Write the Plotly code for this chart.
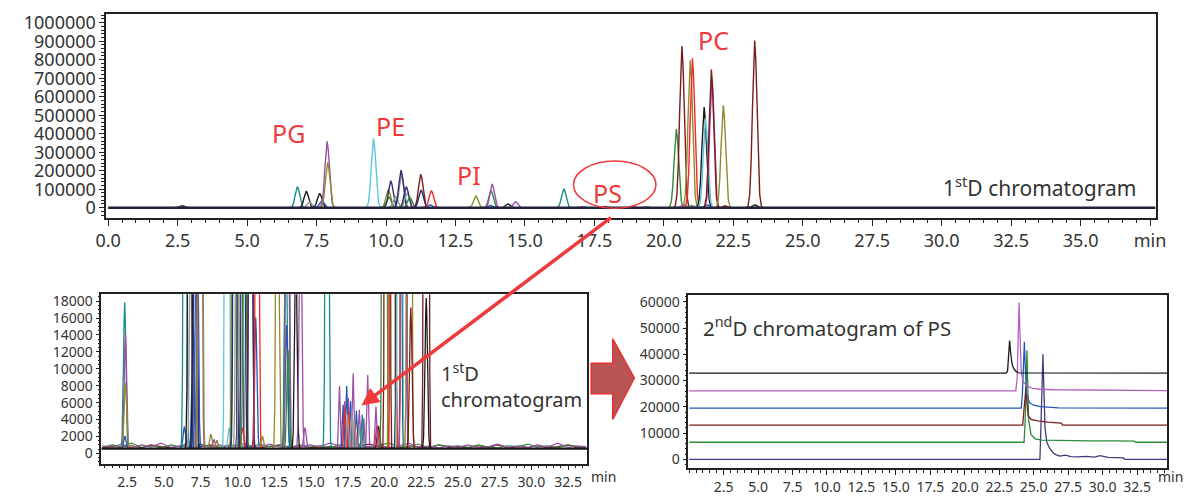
import plotly.graph_objects as go

W, H = 1200, 496


def px(x):
    return x / W


def py(y):
    return 1 - y / H


# ---------------- colours ----------------
COL = dict(teal='#1b8c87', black='#1a1a1a', gray='#9a9a9a', blue='#2356b5',
           purple='#9b4fa8', olive='#8f8a2c', cyan='#5ec6d6', green='#2f8a3c',
           navy='#2e2e6e', brown='#7a1c1c', red='#f02828', magenta='#b55fbf',
           slate='#3d3d7d')

# normalised peak profile (offset in min, fraction of apex)
PROF_OFF = [-0.30, -0.24, -0.18, -0.13, -0.08, -0.04, 0.0, 0.04, 0.08, 0.13, 0.18, 0.24, 0.30]
PROF_FRAC = [0.0, 0.01, 0.08, 0.27, 0.60, 0.88, 1.0, 0.88, 0.60, 0.27, 0.08, 0.01, 0.0]
# narrower, jagged profile for the PS hump
PS_OFF = [-0.14, -0.08, -0.04, 0.0, 0.04, 0.08, 0.14]
PS_FRAC = [0.0, 0.35, 0.75, 1.0, 0.7, 0.3, 0.0]

# ---------------- top panel: 1stD chromatogram ----------------
top_times = [2.65, 2.70, 6.81, 7.13, 7.24, 7.61, 7.69, 7.88, 7.90, 9.55,
             10.08, 10.10, 10.17, 10.34, 10.56, 10.54, 10.76, 10.73, 10.85,
             11.25, 11.26, 11.58, 11.63, 13.23, 13.75, 13.78, 13.82, 14.38, 14.66,
             16.40, 17.1, 17.9, 18.9, 19.4,
             20.45, 20.65, 20.70, 21.00, 21.05, 20.95, 21.03, 21.45, 21.50, 21.55,
             21.73, 21.71, 22.14, 22.20, 23.27, 23.27]
top_heights = [12000, 8000, 114000, 89000, 31000, 78000, 38000, 358000, 245000, 374000,
               98000, 57000, 146000, 60000, 180000, 203000, 80000, 114000, 57000,
               181000, 96000, 15000, 93000, 63000, 12000, 92000, 128000, 20000, 33000,
               102000, 6000, 7000, 6000, 5000,
               425000, 874000, 15000, 12000, 10000, 797000, 807000, 544000, 482000, 15000,
               700000, 747000, 553000, 10000, 903000, 15000]
top_colors = ['teal', 'brown', 'teal', 'black', 'gray', 'black', 'blue', 'purple', 'olive', 'cyan',
              'olive', 'green', 'navy', 'gray', 'gray', 'navy', 'gray', 'navy', 'green',
              'brown', 'navy', 'blue', 'red', 'olive', 'blue', 'green', 'purple', 'black', 'purple',
              'teal', 'purple', 'purple', 'purple', 'purple',
              'green', 'brown', 'purple', 'green', 'gray', 'olive', 'red', 'black', 'cyan', 'blue',
              'purple', 'brown', 'olive', 'brown', 'brown', 'black']
top_xticks = [0.0, 2.5, 5.0, 7.5, 10.0, 12.5, 15.0, 17.5, 20.0, 22.5, 25.0, 27.5, 30.0, 32.5, 35.0, 37.5]
top_xlabels = ['0.0', '2.5', '5.0', '7.5', '10.0', '12.5', '15.0', '17.5', '20.0', '22.5',
               '25.0', '27.5', '30.0', '32.5', '35.0', 'min']

# ---------------- bottom-left: zoomed 1stD chromatogram ----------------
bl_base = 550
bl_times = [2.34, 2.39, 2.39, 2.35, 6.40, 6.45, 6.75, 6.85, 7.00, 7.10, 7.15, 7.25, 7.45, 7.50,
            8.20, 8.40, 8.60, 9.30, 9.45, 9.75, 9.80, 9.85, 10.00, 10.20, 10.25, 10.35, 10.40,
            10.50, 10.90, 10.90, 11.25, 11.35, 11.70, 12.73, 13.30, 13.35, 13.38, 13.42, 13.45,
            13.98, 14.30, 14.60, 16.10, 19.50, 19.60,
            20.00, 20.20, 20.50, 20.60, 21.00, 21.05, 21.30, 21.32, 21.70, 21.80, 22.85, 22.85]
bl_heights = [17300, 13600, 7800, 1500, 2600, 114000, 89000, 31000, 14600, 78000, 60000, 38000,
              358000, 245000, 1700, 1100, 1000, 374000, 2500, 98000, 57000, 146000, 60000, 203000,
              180000, 2500, 114000, 57000, 181000, 96000, 15500, 93000, 1500, 63000, 30000, 14600,
              92000, 128000, 11700, 24000, 33000, 2500, 102000, 2700, 2700,
              425000, 874000, 797000, 807000, 544000, 482000, 747000, 700000, 553000, 16700,
              903000, 17800]
bl_colors = ['teal', 'purple', 'olive', 'blue', 'blue', 'teal', 'black', 'gray', 'blue', 'black',
             'navy', 'blue', 'purple', 'olive', 'olive', 'purple', 'olive', 'cyan', 'cyan', 'olive',
             'green', 'navy', 'gray', 'navy', 'gray', 'red', 'navy', 'green', 'brown', 'navy', 'blue',
             'red', 'olive', 'olive', 'teal', 'blue', 'green', 'purple', 'green', 'black', 'purple',
             'purple', 'teal', 'red', 'brown',
             'green', 'brown', 'olive', 'red', 'black', 'cyan', 'brown', 'purple', 'olive', 'brown',
             'brown', 'black']
# PS hump (jagged small peaks)
ps_times = [16.95, 17.30, 17.55, 17.88, 18.30, 18.60, 18.87, 19.43,
            17.20, 17.44, 17.70, 18.10, 17.30, 17.60, 18.00, 17.50, 17.80, 17.95, 18.30, 18.50]
ps_heights = [7400, 5600, 6000, 8900, 4600, 3600, 8700, 5000,
              5200, 7400, 5600, 4500, 5000, 4400, 3000, 4000, 4500, 3500, 2600, 4000]
ps_colors = ['purple'] * 8 + ['blue'] * 4 + ['red'] * 3 + ['gray'] * 4 + ['teal']
bl_xticks = [2.5, 5.0, 7.5, 10.0, 12.5, 15.0, 17.5, 20.0, 22.5, 25.0, 27.5, 30.0, 32.5]

noise_t = [0.8, 1.5, 2.1, 2.8, 3.5, 4.1, 4.8, 5.5, 6.1, 6.8, 7.5, 8.2, 8.8, 9.5, 10.2, 10.9,
           11.5, 12.2, 12.9, 13.6, 14.2, 14.9, 15.6, 16.3, 16.9, 17.6, 18.3, 19.0, 19.6, 20.3,
           21.0, 21.7, 22.3, 23.0, 23.7, 24.4, 25.0, 25.7, 26.4, 27.1, 27.7, 28.4, 29.1, 29.8,
           30.4, 31.1, 31.8, 32.5, 33.1, 33.7]
noise_purple = [900, 700, 1100, 650, 1000, 750, 1200, 700, 850, 1300, 900, 700, 1000, 650, 1200,
                800, 700, 1100, 750, 900, 650, 1000, 800, 1200, 900, 1100, 800, 700, 1000, 650,
                900, 1200, 700, 850, 650, 900, 700, 1000, 650, 800, 1100, 700, 900, 650, 1000,
                750, 1200, 700, 900, 800]
noise_green = [700, 1000, 800, 1200, 700, 900, 650, 1000, 750, 900, 1100, 800, 700, 1000, 900,
               650, 1100, 800, 900, 700, 1000, 750, 900, 650, 1000, 800, 1100, 700, 900, 1200,
               800, 700, 1100, 650, 1000, 800, 900, 700, 1000, 750, 650, 900, 800, 1100, 700,
               900, 650, 1000, 800, 700]
noise_brown = [650, 800, 700, 900, 650, 1000, 800, 650, 900, 700, 800, 1000, 650, 800, 700, 900,
               650, 800, 1000, 650, 900, 700, 650, 800, 700, 650, 900, 1100, 800, 700, 650, 900,
               800, 650, 1000, 700, 800, 650, 900, 700, 1000, 650, 800, 700, 900, 650, 800, 1000,
               650, 800]

# ---------------- bottom-right: 2ndD chromatogram of PS ----------------
br_black_t = [0, 23.0, 23.1, 23.18, 23.25, 23.32, 23.42, 23.55, 23.7, 23.9, 34.7]
br_black_y = [32850, 32850, 33500, 40000, 45300, 41000, 36500, 34500, 33600, 32900, 32850]
br_mag_t = [0, 23.7, 23.8, 23.88, 23.94, 24.0, 24.1, 24.25, 24.5, 24.9, 25.5, 26.5, 28, 30, 34.7]
br_mag_y = [26100, 26100, 31000, 50000, 59800, 48000, 33000, 29500, 28000, 27000, 26700, 26500,
            26400, 26300, 26200]
br_blue_t = [0, 24.1, 24.18, 24.26, 24.32, 24.38, 24.48, 24.7, 25.0, 25.5, 26.2, 26.8, 34.7]
br_blue_y = [19500, 19500, 25000, 38000, 44800, 36000, 25000, 21500, 20600, 20100, 19900, 19600, 19500]
br_brown_t = [0, 24.2, 24.28, 24.36, 24.44, 24.5, 24.6, 24.8, 25.3, 26.0, 26.6, 27.0, 27.1, 34.7]
br_brown_y = [13000, 13000, 18000, 24000, 27600, 22000, 16500, 15200, 14600, 14200, 14000, 13800,
              13000, 13000]
br_green_t = [0, 24.3, 24.38, 24.45, 24.51, 24.56, 24.63, 24.8, 25.1, 25.6, 27, 29, 31, 32.3, 32.4, 34.7]
br_green_y = [6500, 6500, 15000, 32000, 41600, 30000, 15000, 9500, 7800, 7300, 7100, 7000, 7000,
              6900, 6500, 6500]
br_navy_t = [0, 25.45, 25.52, 25.6, 25.67, 25.73, 25.82, 25.95, 26.15, 26.4, 26.6, 26.9, 27.3,
             27.7, 28.2, 28.8, 29.4, 29.8, 30.4, 31.0, 31.5, 31.6, 34.7]
br_navy_y = [0, 0, 12000, 30000, 40000, 28000, 12000, 6500, 4200, 2500, 1800, 1200, 1600, 1000,
             900, 1100, 800, 1400, 700, 600, 500, 0, 0]
br_xticks = [2.5, 5.0, 7.5, 10.0, 12.5, 15.0, 17.5, 20.0, 22.5, 25.0, 27.5, 30.0, 32.5]

# ================= figure =================
fig = go.Figure()


def add_peaks(times, heights, colors, offs, fracs, base, xa, ya, width=1.3):
    for t, h, c in zip(times, heights, colors):
        fig.add_trace(go.Scatter(
            x=[t + o for o in offs], y=[base + h * f for f in fracs],
            mode='lines', line=dict(color=COL[c], width=width),
            xaxis=xa, yaxis=ya, showlegend=False, hoverinfo='skip'))


# top
add_peaks(top_times, top_heights, top_colors, PROF_OFF, PROF_FRAC, 0, 'x', 'y', 1.4)
fig.add_trace(go.Scatter(x=[0, 37.7], y=[0, 0], mode='lines',
                         line=dict(color='#22223a', width=2.6), xaxis='x', yaxis='y',
                         showlegend=False, hoverinfo='skip'))

# bottom-left
for vals, c in [(noise_brown, 'brown'), (noise_green, 'green'), (noise_purple, 'purple')]:
    fig.add_trace(go.Scatter(x=noise_t, y=vals, mode='lines', line=dict(color=COL[c], width=1.2),
                             xaxis='x2', yaxis='y2', showlegend=False, hoverinfo='skip'))
add_peaks(bl_times, bl_heights, bl_colors, PROF_OFF, PROF_FRAC, bl_base, 'x2', 'y2', 1.3)
add_peaks(ps_times, ps_heights, ps_colors, PS_OFF, PS_FRAC, bl_base, 'x2', 'y2', 1.3)
fig.add_trace(go.Scatter(x=[0.75, 33.8], y=[bl_base, bl_base], mode='lines',
                         line=dict(color='#1a1a1a', width=2.2), xaxis='x2', yaxis='y2',
                         showlegend=False, hoverinfo='skip'))

# bottom-right
for tx, ty, c in [(br_navy_t, br_navy_y, 'slate'), (br_green_t, br_green_y, 'green'),
                  (br_brown_t, br_brown_y, 'brown'), (br_blue_t, br_blue_y, 'blue'),
                  (br_mag_t, br_mag_y, 'magenta'), (br_black_t, br_black_y, 'black')]:
    fig.add_trace(go.Scatter(x=tx, y=ty, mode='lines', line=dict(color=COL[c], width=1.3),
                             xaxis='x3', yaxis='y3', showlegend=False, hoverinfo='skip'))

FONT = 'Noto Sans'
TXT = '#333333'
frame = dict(showline=True, linecolor='#222222', linewidth=1.5, mirror=True,
             showgrid=False, zeroline=False, ticks='outside', tickcolor='#222222')

fig.update_layout(
    width=W, height=H, margin=dict(l=0, r=0, t=0, b=0),
    paper_bgcolor='white', plot_bgcolor='white', showlegend=False,
    font=dict(family=FONT, color=TXT),
    xaxis=dict(domain=[px(97), px(1166)], anchor='y', range=[-0.07, 37.7],
               tickmode='array', tickvals=top_xticks, ticktext=top_xlabels,
               ticklen=6, tickfont=dict(size=18, color=TXT),
               minor=dict(tickmode='linear', tick0=0, dtick=0.5, ticklen=3, ticks='outside',
                          tickcolor='#222222'), **frame),
    yaxis=dict(domain=[py(218), py(10)], anchor='x', range=[-56000, 1048000],
               tickmode='linear', tick0=0, dtick=100000, tickformat='d',
               ticklen=5, tickfont=dict(size=18, color=TXT),
               minor=dict(tickmode='linear', tick0=0, dtick=20000, ticklen=3, ticks='outside',
                          tickcolor='#222222'), **frame),
    xaxis2=dict(domain=[px(92), px(587)], anchor='y2', range=[0.75, 33.8],
                tickmode='array', tickvals=bl_xticks, ticktext=['%.1f' % v for v in bl_xticks],
                ticklen=5, tickfont=dict(size=14, color=TXT),
                minor=dict(tickmode='linear', tick0=0, dtick=0.5, ticklen=3, ticks='outside',
                           tickcolor='#222222'), **frame),
    yaxis2=dict(domain=[py(468), py(295.7)], anchor='x2', range=[-1200, 18800],
                tickmode='linear', tick0=0, dtick=2000, tickformat='d',
                ticklen=4, tickfont=dict(size=14, color=TXT),
                minor=dict(tickmode='linear', tick0=0, dtick=500, ticklen=2, ticks='outside',
                           tickcolor='#222222'), **frame),
    xaxis3=dict(domain=[px(690), px(1178)], anchor='y3', range=[-0.06, 34.7],
                tickmode='array', tickvals=br_xticks, ticktext=['%.1f' % v for v in br_xticks],
                ticklen=5, tickfont=dict(size=14, color=TXT),
                minor=dict(tickmode='linear', tick0=0, dtick=0.5, ticklen=3, ticks='outside',
                           tickcolor='#222222'), **frame),
    yaxis3=dict(domain=[py(472.7), py(296.7)], anchor='x3', range=[-3370, 62500],
                tickmode='linear', tick0=0, dtick=10000, tickformat='d',
                ticklen=4, tickfont=dict(size=14, color=TXT),
                minor=dict(tickmode='linear', tick0=0, dtick=2000, ticklen=2, ticks='outside',
                           tickcolor='#222222'), **frame),
)

RED = '#ee3a3a'
ann = []
for txt, x, y in [('PG', 283, 131), ('PE', 387, 124), ('PI', 467, 174), ('PS', 608, 192), ('PC', 716, 37)]:
    ann.append(dict(text=txt, x=px(x), y=py(y), xref='paper', yref='paper', showarrow=False,
                    xanchor='center', yanchor='middle', font=dict(size=25, color=RED, family=FONT)))
ann.append(dict(text='1<sup>st</sup>D chromatogram', x=px(1148), y=py(186), xref='paper', yref='paper',
                showarrow=False, xanchor='right', yanchor='middle', font=dict(size=21, color=TXT)))
ann.append(dict(text='1<sup>st</sup>D<br>chromatogram', x=px(436), y=py(389), xref='paper', yref='paper',
                showarrow=False, xanchor='left', yanchor='middle', align='left',
                font=dict(size=20, color=TXT)))
ann.append(dict(text='2<sup>nd</sup>D chromatogram of PS', x=px(703), y=py(329), xref='paper', yref='paper',
                showarrow=False, xanchor='left', yanchor='middle', font=dict(size=20.5, color=TXT)))
ann.append(dict(text='min', x=px(604), y=py(481), xref='paper', yref='paper', showarrow=False,
                xanchor='center', yanchor='middle', font=dict(size=14, color=TXT)))
ann.append(dict(text='min', x=px(1181), y=py(481), xref='paper', yref='paper', showarrow=False,
                xanchor='center', yanchor='middle', font=dict(size=14, color=TXT)))
# red pointer arrow
ann.append(dict(text='', x=px(357), y=py(409), xref='paper', yref='paper', showarrow=True,
                ax=608 - 357, ay=220 - 409, axref='pixel', ayref='pixel',
                arrowcolor=RED, arrowwidth=3.5, arrowhead=2, arrowsize=1.0))
fig.update_layout(annotations=ann)

pts = [(591, 366), (613, 366), (613, 341), (635, 381), (613, 423), (613, 397), (591, 397)]
path = 'M ' + ' L '.join('%.5f,%.5f' % (px(a), py(b)) for a, b in pts) + ' Z'
fig.add_shape(type='path', path=path, xref='paper', yref='paper',
              fillcolor='#b85454', line=dict(color='#e83030', width=1.5))
fig.add_shape(type='circle', xref='paper', yref='paper', x0=px(573), x1=px(657),
              y0=py(208), y1=py(160), line=dict(color=RED, width=1.5))

fig.write_html('out.html', config={'displayModeBar': False},
               post_script="document.body.style.margin='0';")
